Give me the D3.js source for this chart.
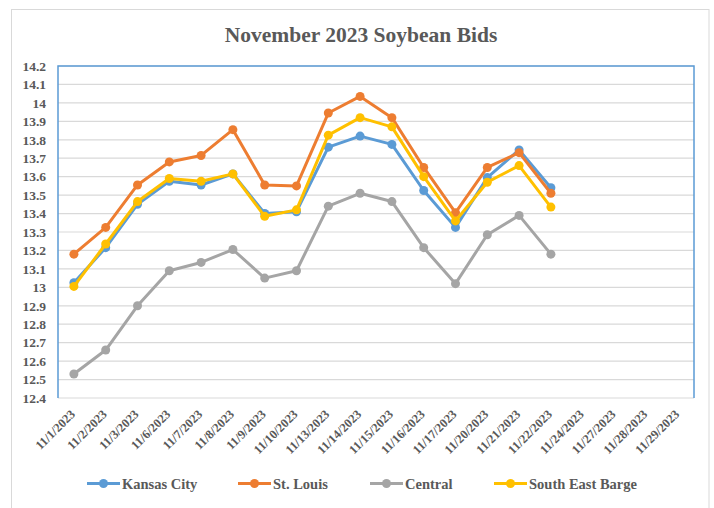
<!DOCTYPE html>
<html><head><meta charset="utf-8">
<script src="https://cdn.jsdelivr.net/npm/d3@7"></script>
<style>body{margin:0;background:#fff}svg{display:block}</style>
</head><body><svg id="c" width="714" height="508"></svg>
<script>
const dates = ["11/1/2023","11/2/2023","11/3/2023","11/6/2023","11/7/2023","11/8/2023","11/9/2023","11/10/2023","11/13/2023","11/14/2023","11/15/2023","11/16/2023","11/17/2023","11/20/2023","11/21/2023","11/22/2023","11/24/2023","11/27/2023","11/28/2023","11/29/2023"];
const kansasCity = [13.025,13.215,13.45,13.575,13.555,13.615,13.40,13.41,13.76,13.82,13.775,13.525,13.325,13.595,13.745,13.54];
const stLouis = [13.18,13.325,13.555,13.68,13.715,13.855,13.555,13.55,13.945,14.035,13.92,13.65,13.405,13.65,13.73,13.51];
const central = [12.53,12.66,12.90,13.09,13.135,13.205,13.05,13.09,13.44,13.51,13.465,13.215,13.02,13.285,13.39,13.18];
const southEastBarge = [13.005,13.235,13.465,13.59,13.575,13.615,13.385,13.42,13.825,13.92,13.87,13.60,13.36,13.57,13.66,13.435];
const yTicks = [12.4,12.5,12.6,12.7,12.8,12.9,13,13.1,13.2,13.3,13.4,13.5,13.6,13.7,13.8,13.9,14,14.1,14.2];
const seriesNames = ["Kansas City","St. Louis","Central","South East Barge"];
const seriesColors = ["#5B9BD5","#ED7D31","#A5A5A5","#FFC000"];
const seriesData = [kansasCity, stLouis, central, southEastBarge];

const svg = d3.select("#c");
const font = "'Liberation Serif','Times New Roman',serif";
const txt = "#595959";
const L=58, R=694, T=66, B=398;

svg.append("rect").attr("x",11.5).attr("y",9.5).attr("width",697.5).attr("height",510).attr("fill","#fff").attr("stroke","#d9d9d9").attr("stroke-width",1);

svg.append("text").attr("x",361).attr("y",42).attr("text-anchor","middle")
  .attr("font-family",font).attr("font-weight","bold").attr("font-size",21.5).attr("fill",txt)
  .text("November 2023 Soybean Bids");

const x = d3.scaleBand().domain(dates).range([L,R]);
const y = d3.scaleLinear().domain([12.4,14.2]).range([B,T]);

// gridlines
svg.append("g").selectAll("line").data(yTicks).join("line")
  .attr("x1",L).attr("x2",R).attr("y1",d=>y(d)).attr("y2",d=>y(d))
  .attr("stroke","#d9d9d9").attr("stroke-width",1.2);

// y axis labels
const ya = svg.append("g").attr("transform",`translate(${L},0)`)
  .call(d3.axisLeft(y).tickValues(yTicks).tickSize(0).tickPadding(12).tickFormat(d=>d3.format("")(+d.toFixed(1))));
ya.select(".domain").remove();
ya.selectAll("text").attr("font-family",font).attr("font-weight","bold").attr("font-size",13.5).attr("fill",txt);

// x axis labels
const xa = svg.append("g").attr("transform",`translate(0,${B})`)
  .call(d3.axisBottom(x).tickSize(0).tickPadding(0));
xa.select(".domain").remove();
xa.selectAll("text").attr("font-family",font).attr("font-weight","bold").attr("font-size",12.5).attr("fill",txt)
  .attr("text-anchor","end").attr("dy",0)
  .attr("transform","translate(2,17) rotate(-45)");

// plot border (blue top/left/right)
svg.append("path").attr("d",`M${L},${B}V${T}H${R}V${B}`).attr("fill","none").attr("stroke","#5B9BD5").attr("stroke-width",1.5);

const line = d3.line().x((d,i)=>x(dates[i])+x.bandwidth()/2).y(d=>y(d));
seriesData.forEach((vals,k)=>{
  const g = svg.append("g");
  g.append("path").attr("d",line(vals)).attr("fill","none").attr("stroke",seriesColors[k]).attr("stroke-width",3).attr("stroke-linejoin","round");
  g.selectAll("circle").data(vals).join("circle")
    .attr("cx",(d,i)=>x(dates[i])+x.bandwidth()/2).attr("cy",d=>y(d)).attr("r",4.5).attr("fill",seriesColors[k]);
});

// legend
const legX = [87,238,370,494];
seriesNames.forEach((n,k)=>{
  const g = svg.append("g").attr("transform",`translate(${legX[k]},483.5)`);
  g.append("line").attr("x1",0).attr("x2",33).attr("stroke",seriesColors[k]).attr("stroke-width",3);
  g.append("circle").attr("cx",16.5).attr("r",4.5).attr("fill",seriesColors[k]);
  g.append("text").attr("x",35).attr("y",5).attr("font-family",font).attr("font-weight","bold").attr("font-size",14.5).attr("fill",txt).text(n);
});
</script></body></html>
